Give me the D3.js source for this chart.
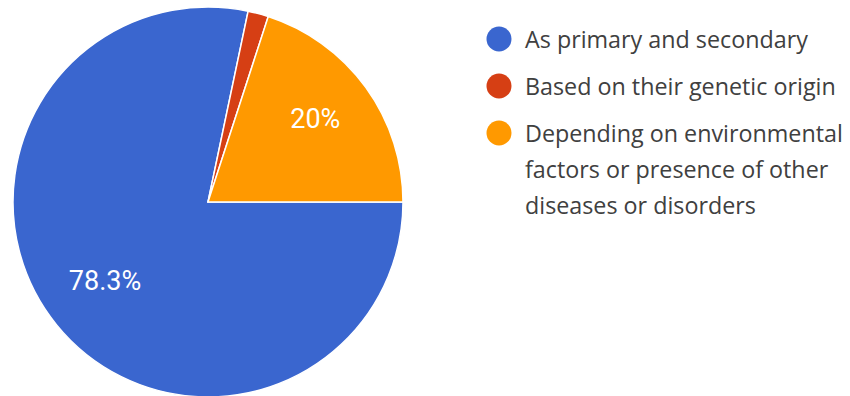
<!DOCTYPE html>
<html>
<head>
<meta charset="utf-8">
<script src="https://cdn.jsdelivr.net/npm/d3@7/dist/d3.min.js"></script>
<style>
  html, body { margin: 0; padding: 0; background: #ffffff; }
  svg { display: block; }
</style>
</head>
<body>
<svg id="chart" width="850" height="396"></svg>
<script>
// Survey answers and their shares (percent)
const categories = [
  "As primary and secondary",
  "Based on their genetic origin",
  "Depending on environmental factors or presence of other diseases or disorders"
];
const shares = [78.3, 1.7, 20.0];
const sliceColors = ["#3a66cf", "#d63f14", "#ff9900"];

const width = 850, height = 396;
const cx = 208, cy = 202, radius = 195;

const svg = d3.select("#chart");

const data = categories.map((c, i) => ({ category: c, value: shares[i], color: sliceColors[i] }));

const pie = d3.pie()
  .value(d => d.value)
  .sort(null)
  .startAngle(Math.PI / 2)
  .endAngle(Math.PI / 2 + 2 * Math.PI);

const arc = d3.arc().innerRadius(0).outerRadius(radius);
const labelArc = d3.arc().innerRadius(radius * 0.68).outerRadius(radius * 0.68);

const g = svg.append("g").attr("transform", `translate(${cx},${cy})`);
const arcs = pie(data);

g.selectAll("path.slice")
  .data(arcs)
  .join("path")
  .attr("class", "slice")
  .attr("d", arc)
  .attr("fill", d => d.data.color)
  .attr("stroke", "#ffffff")
  .attr("stroke-width", 1.5);

// Percentage labels on slices large enough to hold them
g.selectAll("text.pct")
  .data(arcs.filter(d => d.data.value >= 5))
  .join("text")
  .attr("class", "pct")
  .attr("transform", d => {
    const [x, y] = labelArc.centroid(d);
    return `translate(${x},${y - 5})`;
  })
  .attr("text-anchor", "middle")
  .attr("dominant-baseline", "central")
  .attr("fill", "#ffffff")
  .style("font-family", "Roboto, sans-serif")
  .style("font-size", "27px")
  .text(d => d3.format(".1~f")(d.data.value) + "%");

// Legend
const legendX = 499, legendTextX = 525, legendTop = 39;
const itemGap = 47, lineGap = 36, maxTextWidth = 325;

const legend = svg.append("g");
let y = legendTop;
data.forEach(d => {
  legend.append("circle")
    .attr("cx", legendX)
    .attr("cy", y)
    .attr("r", 12.5)
    .attr("fill", d.color);

  const text = legend.append("text")
    .attr("x", legendTextX)
    .attr("y", y)
    .attr("dominant-baseline", "central")
    .attr("fill", "#404040")
    .style("font-family", "'Open Sans', sans-serif")
    .style("font-size", "23.3px");

  // word wrapping
  const words = d.category.split(" ");
  let line = [];
  let tspan = text.append("tspan").attr("x", legendTextX).attr("y", y);
  let lines = 1;
  words.forEach(w => {
    line.push(w);
    tspan.text(line.join(" "));
    if (tspan.node().getComputedTextLength() > maxTextWidth && line.length > 1) {
      line.pop();
      tspan.text(line.join(" "));
      line = [w];
      tspan = text.append("tspan")
        .attr("x", legendTextX)
        .attr("y", y + lines * lineGap)
        .text(w);
      lines++;
    }
  });
  y += itemGap + (lines - 1) * lineGap;
});
</script>
</body>
</html>
